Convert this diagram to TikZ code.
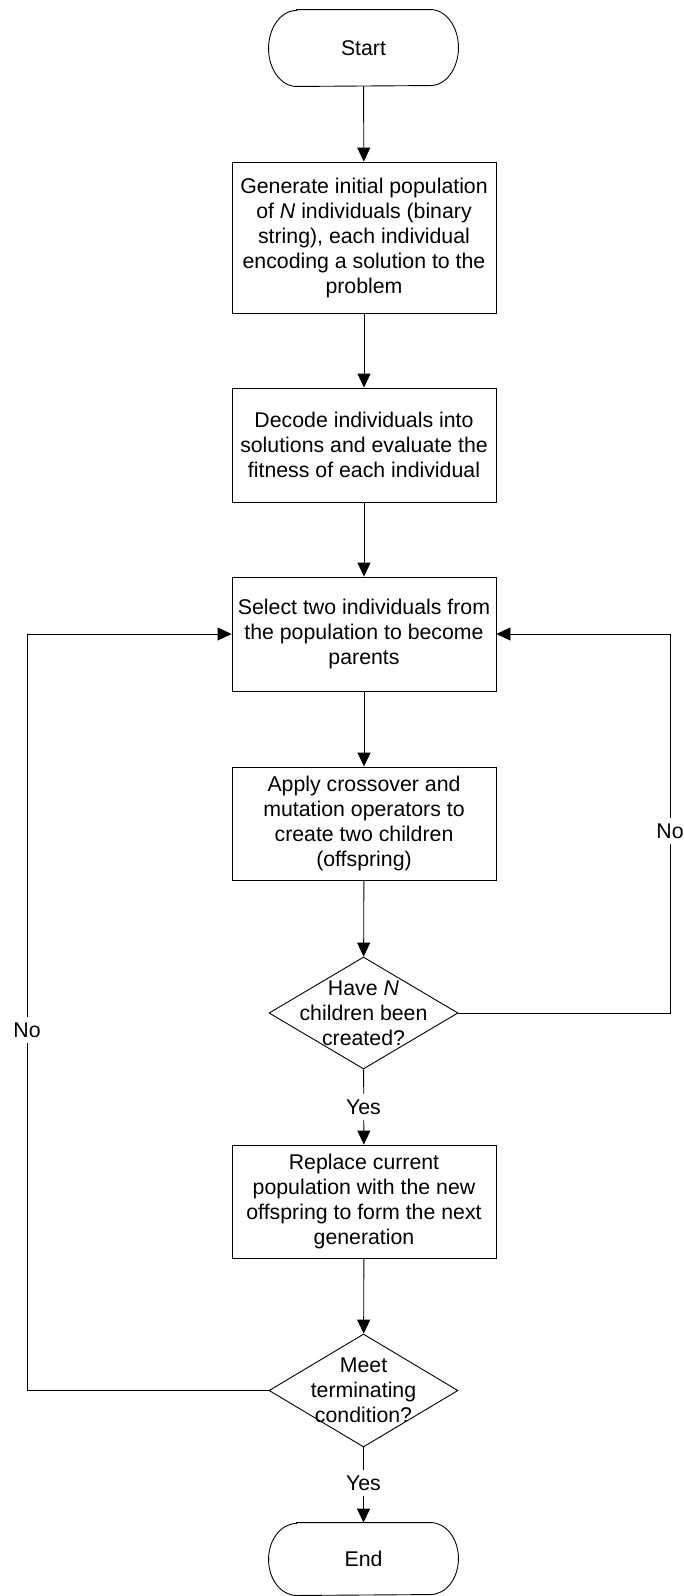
\documentclass[tikz,border=0pt]{standalone}
\usepackage{fontspec}
\setmainfont{Liberation Sans}
\usetikzlibrary{shapes.geometric,arrows.meta}

\begin{document}
\begin{tikzpicture}[x=1pt,y=-1pt,
  font=\fontsize{21.3}{25}\selectfont,
  line width=0.9pt,
  stepbox/.style={draw, rectangle, minimum width=264pt, align=center, inner sep=0pt},
  decision/.style={draw, diamond, minimum width=189pt, inner sep=0pt},
  dtext/.style={align=center, inner sep=0pt},
  terminal/.style={rectangle, minimum width=189pt, inner sep=0pt},
  flow/.style={-{Triangle[length=14pt,width=13pt]}},
  tag/.style={fill=white, inner xsep=1pt, inner ysep=6pt}
]
\useasboundingbox (0,0) rectangle (683,1596);

% terminals (stadium outlines with elliptical ends)
\node[terminal, minimum height=76pt] (start) at (363.5,48) {Start};
\draw ([xshift=28pt]start.north west) -- ([xshift=-28pt]start.north east)
  arc[start angle=90, end angle=-90, x radius=28pt, y radius=38pt]
  -- ([xshift=28pt]start.south west)
  arc[start angle=270, end angle=90, x radius=28pt, y radius=38pt] -- cycle;

\node[terminal, minimum height=72pt] (end) at (363.5,1559) {End};
\draw ([xshift=28pt]end.north west) -- ([xshift=-28pt]end.north east)
  arc[start angle=90, end angle=-90, x radius=28pt, y radius=36pt]
  -- ([xshift=28pt]end.south west)
  arc[start angle=270, end angle=90, x radius=28pt, y radius=36pt] -- cycle;

% process steps
\node[stepbox, minimum height=151pt] (s1) at (364,237.5)
  {Generate initial population\\of \textit{N} individuals (binary\\string), each individual\\encoding a solution to the\\problem};
\node[stepbox, minimum height=114pt] (s2) at (364,445)
  {Decode individuals into\\solutions and evaluate the\\fitness of each individual};
\node[stepbox, minimum height=114pt] (s3) at (364,634)
  {Select two individuals from\\the population to become\\parents};
\node[stepbox, minimum height=113pt] (s4) at (364,823.5)
  {Apply crossover and\\mutation operators to\\create two children\\(offspring)};
\node[stepbox, minimum height=113pt] (s5) at (364,1201.5)
  {Replace current\\population with the new\\offspring to form the next\\generation};

% decisions
\node[decision, minimum height=112pt] (d1) at (363.5,1013) {};
\node[dtext] (d1t) at (d1) {Have \textit{N}\\children been\\created?};
\node[decision, minimum height=113pt] (d2) at (363.5,1390.5) {};
\node[dtext] (d2t) at (d2) {Meet\\terminating\\condition?};

% loop-back tracks
\coordinate (rtrack) at (670,800);
\coordinate (ltrack) at (27,800);

% main flow
\draw[flow] (start) -- (s1);
\draw[flow] (s1) -- (s2);
\draw[flow] (s2) -- (s3);
\draw[flow] (s3) -- (s4);
\draw[flow] (s4) -- (d1);
\draw[flow] (d1) -- (s5);
\draw[flow] (s5) -- (d2);
\draw[flow] (d2) -- (end);

% loops back to selection
\draw[flow] (d1.east) -- (d1.east -| rtrack) |- (s3.east);
\draw[flow] (d2.west) -- (d2.west -| ltrack) |- (s3.west);

% branch labels
\node[tag] (yes1) at (363.5,1107) {Yes};
\node[tag] (yes2) at (363.5,1483) {Yes};
\node[tag] (no1) at (670,831) {No};
\node[tag] (no2) at (27,1030) {No};
\end{tikzpicture}
\end{document}
